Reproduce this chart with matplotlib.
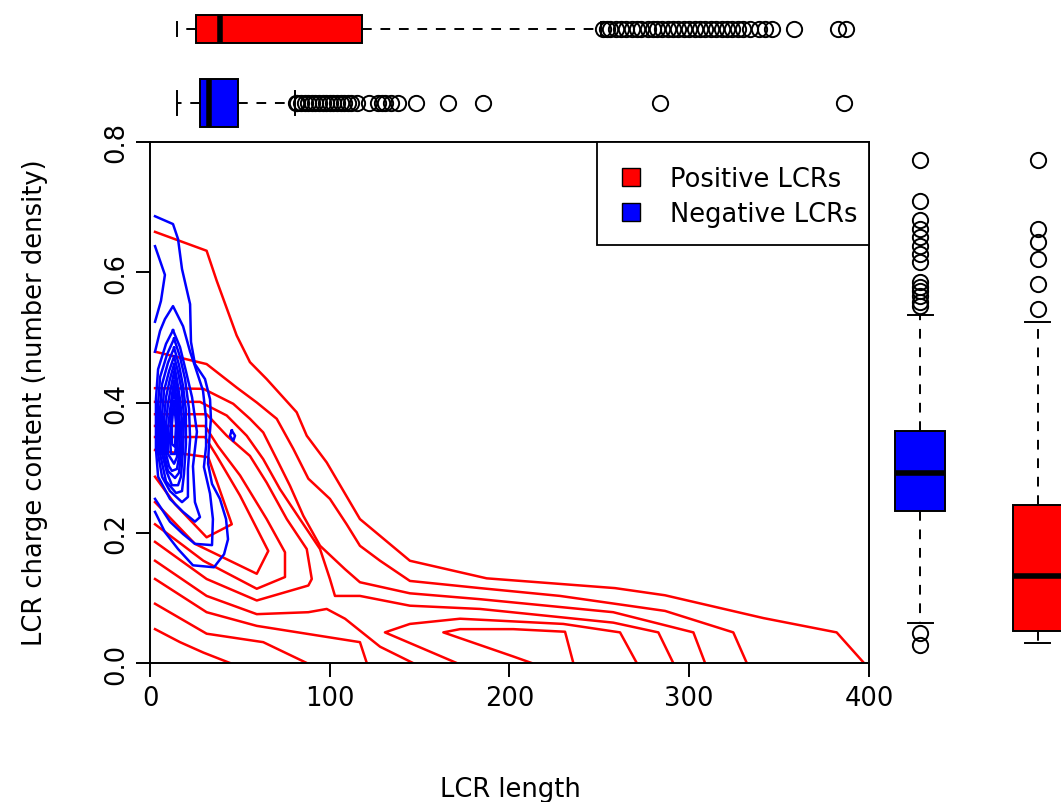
import matplotlib
matplotlib.use("Agg")
import matplotlib.pyplot as plt
from matplotlib.patches import Patch, Rectangle

# ---------------- data ----------------
# box plot statistics of LCR length (top panel)
pos_len = dict(whislo=15.0, q1=25.8, med=39.0, q3=118.0, whishi=251.0)
pos_len_out = [252, 254, 256, 259, 262, 265, 268, 271, 273, 277, 280, 282, 285,
               288, 291, 294, 297, 300, 303, 306, 309, 312, 315, 318, 321, 324,
               327, 330, 334, 339, 342, 346, 358, 383, 387]
neg_len = dict(whislo=15.0, q1=27.8, med=32.8, q3=49.0, whishi=80.5)
neg_len_out = [81, 82, 84, 86, 88, 90, 92, 94, 96, 98, 100, 102, 104, 106, 108,
               110, 112, 115, 122, 127, 129, 131, 134, 138, 148, 166, 185, 284, 386]

# box plot statistics of LCR charge content (right panel)
neg_chg = dict(whislo=0.061, q1=0.234, med=0.292, q3=0.357, whishi=0.535)
neg_chg_out = [0.773, 0.709, 0.680, 0.666, 0.654, 0.640, 0.628, 0.616, 0.585,
               0.578, 0.571, 0.563, 0.555, 0.548, 0.046, 0.028]
pos_chg = dict(whislo=0.030, q1=0.049, med=0.133, q3=0.242, whishi=0.523)
pos_chg_out = [0.773, 0.667, 0.646, 0.620, 0.582, 0.543]

# 2D density contour lines, (length, charge content)
red_lines = [
    [(2.8, 0.662), (31.5, 0.633), (37.1, 0.587), (48.2, 0.503), (55.6, 0.462), (64.9, 0.436),
     (81.6, 0.385), (87.2, 0.349), (98.3, 0.308), (116.8, 0.221), (144.6, 0.157), (187.3, 0.130),
     (258.7, 0.115), (286.5, 0.104), (341.2, 0.069), (382.0, 0.047), (397.2, 0.0)],
    [(2.8, 0.052), (16.7, 0.032), (29.7, 0.016), (44.5, 0.0)],
    [(2.8, 0.478), (31.5, 0.459), (48.2, 0.423), (59.4, 0.400), (70.5, 0.375), (79.7, 0.329),
     (88.1, 0.283), (100.1, 0.252), (109.4, 0.213), (116.8, 0.180), (128.0, 0.157), (144.6, 0.126),
     (183.6, 0.115), (228.1, 0.103), (286.5, 0.080), (324.5, 0.047), (332.0, 0.0)],
    [(2.8, 0.091), (31.5, 0.045), (63.0, 0.032), (87.2, 0.0)],
    [(2.8, 0.422), (29.7, 0.421), (46.3, 0.398), (55.6, 0.375), (63.0, 0.354), (70.5, 0.313),
     (77.9, 0.272), (85.3, 0.226), (94.6, 0.180), (108.5, 0.144), (116.8, 0.124), (144.6, 0.107),
     (183.6, 0.098), (257.7, 0.078), (302.3, 0.047), (308.8, 0.0)],
    [(2.8, 0.129), (31.5, 0.078), (59.4, 0.057), (116.8, 0.032), (120.6, 0.0)],
    [(2.8, 0.401), (27.8, 0.401), (42.7, 0.380), (53.8, 0.349), (63.0, 0.313), (72.3, 0.267),
     (83.4, 0.221), (94.6, 0.175), (100.1, 0.129), (102.9, 0.103), (116.8, 0.103), (144.6, 0.088),
     (183.6, 0.083), (257.7, 0.062), (282.8, 0.047), (291.1, 0.0)],
    [(2.8, 0.157), (31.5, 0.103), (59.4, 0.075), (88.1, 0.078), (98.3, 0.083), (108.5, 0.068),
     (128.0, 0.025), (146.3, 0.0)],
    [(2.8, 0.382), (31.5, 0.382), (42.7, 0.349), (55.6, 0.318), (64.9, 0.277), (76.1, 0.221),
     (87.2, 0.175), (90.0, 0.129), (88.1, 0.119), (59.4, 0.096), (31.5, 0.129), (2.8, 0.186)],
    [(2.8, 0.364), (30.6, 0.364), (37.8, 0.333), (50.1, 0.288), (64.9, 0.221), (75.1, 0.170),
     (75.1, 0.132), (59.4, 0.114), (29.7, 0.157), (2.8, 0.213)],
    [(2.8, 0.347), (30.6, 0.347), (37.1, 0.318), (50.1, 0.257), (65.8, 0.172), (59.4, 0.137),
     (25.0, 0.183), (2.8, 0.247)],
    [(2.8, 0.327), (32.4, 0.316), (45.5, 0.213), (31.5, 0.193), (13.9, 0.244), (2.8, 0.286)],
    [(270.8, 0.0), (261.5, 0.047), (229.9, 0.060), (172.5, 0.068), (144.6, 0.060), (130.7, 0.047),
     (170.6, 0.0)],
    [(235.5, 0.0), (230.9, 0.048), (202.1, 0.052), (172.5, 0.052), (163.2, 0.047), (202.1, 0.010),
     (212.3, 0.0)],
]

blue_lines = [
    [(2.8, 0.686), (12.8, 0.674), (15.6, 0.651), (17.8, 0.605), (22.3, 0.551), (22.8, 0.493),
     (25.0, 0.459), (30.6, 0.436), (33.4, 0.405), (33.9, 0.375), (32.8, 0.336), (32.3, 0.306),
     (34.5, 0.275), (38.9, 0.252), (42.3, 0.221), (43.4, 0.190), (41.2, 0.167), (35.6, 0.147),
     (23.9, 0.150), (15.6, 0.175), (8.3, 0.201), (2.8, 0.232)],
    [(2.8, 0.640), (8.3, 0.596), (6.1, 0.556), (2.8, 0.524)],
    [(2.8, 0.478), (5.6, 0.510), (8.3, 0.528), (12.8, 0.548), (18.4, 0.517), (22.3, 0.478),
     (25.0, 0.456), (29.5, 0.418), (31.2, 0.375), (31.2, 0.333), (30.0, 0.301), (33.4, 0.260),
     (35.0, 0.221), (34.5, 0.181), (25.0, 0.183), (18.4, 0.198), (11.1, 0.217), (2.8, 0.252)],
    [(12.8, 0.511), (8.9, 0.490), (4.5, 0.451), (3.3, 0.405), (3.3, 0.329), (4.5, 0.286),
     (11.1, 0.252), (18.4, 0.232), (25.0, 0.217), (27.8, 0.224), (25.0, 0.247), (23.9, 0.302),
     (26.1, 0.355), (23.4, 0.408), (20.0, 0.448), (16.7, 0.485), (12.8, 0.511)],
    [(13.4, 0.498), (9.5, 0.474), (5.6, 0.439), (4.5, 0.398), (4.5, 0.321), (6.7, 0.286),
     (11.1, 0.264), (17.8, 0.247), (21.1, 0.255), (21.1, 0.298), (22.3, 0.344), (21.7, 0.390),
     (19.5, 0.436), (16.7, 0.470), (13.4, 0.498)],
    [(13.4, 0.484), (10.0, 0.461), (6.7, 0.428), (5.6, 0.390), (5.6, 0.321), (8.9, 0.279),
     (14.5, 0.261), (17.8, 0.264), (18.9, 0.290), (20.0, 0.336), (20.0, 0.387), (18.4, 0.425),
     (16.1, 0.458), (13.4, 0.484)],
    [(13.4, 0.471), (10.6, 0.448), (7.8, 0.418), (6.7, 0.382), (6.7, 0.321), (9.5, 0.292),
     (12.2, 0.273), (15.6, 0.273), (17.2, 0.286), (18.4, 0.329), (18.9, 0.378), (17.8, 0.416),
     (15.6, 0.447), (13.4, 0.471)],
    [(13.4, 0.459), (11.1, 0.436), (8.9, 0.408), (7.8, 0.375), (7.8, 0.321), (10.0, 0.295),
     (13.9, 0.284), (16.1, 0.292), (17.2, 0.321), (17.8, 0.372), (16.7, 0.405), (15.0, 0.435),
     (13.4, 0.459)],
    [(13.4, 0.447), (11.7, 0.424), (10.0, 0.398), (8.9, 0.367), (8.9, 0.321), (10.6, 0.302),
     (12.2, 0.295), (15.0, 0.298), (16.1, 0.316), (16.7, 0.362), (16.1, 0.395), (15.0, 0.422),
     (13.4, 0.447)],
    [(13.4, 0.433), (12.2, 0.412), (11.1, 0.387), (10.0, 0.359), (10.0, 0.321), (13.4, 0.306),
     (15.0, 0.316), (15.6, 0.355), (15.6, 0.385), (14.5, 0.410), (13.4, 0.433)],
    [(13.4, 0.418), (12.2, 0.399), (11.7, 0.375), (11.1, 0.344), (11.7, 0.321), (13.9, 0.321),
     (15.0, 0.344), (15.0, 0.375), (14.5, 0.398), (13.4, 0.418)],
    [(13.4, 0.402), (12.8, 0.387), (12.2, 0.367), (12.2, 0.336), (13.9, 0.332), (14.5, 0.367),
     (13.9, 0.385), (13.4, 0.402)],
    [(45.5, 0.357), (47.3, 0.349), (46.3, 0.341), (44.5, 0.349), (45.5, 0.357)],
]

x_ticks = [0, 100, 200, 300, 400]
y_ticks = [0.0, 0.2, 0.4, 0.6, 0.8]
y_ticklabels = ["0.0", "0.2", "0.4", "0.6", "0.8"]

# ---------------- figure ----------------
W, H = 1061, 803
fig = plt.figure(figsize=(W / 100, H / 100), dpi=100)
FS = 18.5

AX_L, AX_T, AX_R, AX_B = 150, 143, 869, 664


def px_axes(left, top, right, bottom):
    return fig.add_axes([left / W, 1 - bottom / H, (right - left) / W, (bottom - top) / H])


def box(ax, stats, fliers, pos, width, color, horizontal):
    st = dict(stats)
    st["fliers"] = fliers
    kw = dict(positions=[pos], widths=[width], patch_artist=True,
              boxprops=dict(facecolor=color, edgecolor="black", linewidth=1.4),
              medianprops=dict(color="black", linewidth=4, solid_capstyle="butt"),
              whiskerprops=dict(color="black", linewidth=1.4, linestyle=(0, (5, 4.5))),
              capprops=dict(color="black", linewidth=1.4),
              flierprops=dict(marker="o", markersize=11, markerfacecolor="none",
                              markeredgecolor="black", markeredgewidth=1.4, linestyle="none"))
    try:
        ax.bxp([st], orientation="horizontal" if horizontal else "vertical", **kw)
    except TypeError:
        ax.bxp([st], vert=not horizontal, **kw)


# main contour panel
ax = px_axes(AX_L, AX_T, AX_R, AX_B)
for line in red_lines:
    xs, ys = zip(*line)
    ax.plot(xs, ys, color="#ff0000", lw=1.8, zorder=2)
for line in blue_lines:
    xs, ys = zip(*line)
    ax.plot(xs, ys, color="#0000ff", lw=1.8, zorder=3)

ax.set_xlim(0, 400)
ax.set_ylim(0, 0.8)
ax.set_xticks(x_ticks)
ax.set_yticks(y_ticks)
ax.set_yticklabels(y_ticklabels, rotation=90, va="center")
ax.tick_params(direction="out", length=10, width=1.4, labelsize=FS)
ax.tick_params(axis="x", pad=6)
ax.tick_params(axis="y", pad=5)
for s in ax.spines.values():
    s.set_linewidth(1.4)


def ax_frac(px, py):
    return (px - AX_L) / (AX_R - AX_L), (AX_B - py) / (AX_B - AX_T)


# legend: R-style box in the top right corner
lx0, ly0 = ax_frac(597, 246)
ax.add_patch(Rectangle((lx0, ly0), 1 - lx0, 1 - ly0, transform=ax.transAxes,
                       facecolor="white", edgecolor="black", lw=1.3, zorder=4,
                       clip_on=False))
handles = [Patch(facecolor="#ff0000", edgecolor="black", label="Positive LCRs"),
           Patch(facecolor="#0000ff", edgecolor="black", label="Negative LCRs")]
hx, hy = ax_frac(622, 167)
leg = ax.legend(handles=handles, loc="upper left", bbox_to_anchor=(hx, hy), borderaxespad=0,
                frameon=False, fontsize=FS, borderpad=0,
                handlelength=0.7, handleheight=0.7, handletextpad=1.15,
                labelspacing=0.35)
leg.set_zorder(5)

fig.text(35 / W, 1 - 403 / H, "LCR charge content (number density)", rotation=90,
         ha="center", va="center", fontsize=FS)
fig.text(510 / W, 1 - 790 / H, "LCR length", ha="center", va="center", fontsize=FS)

# top panel: length box plots
axt = px_axes(AX_L, 0, AX_R, 140)
box(axt, pos_len, pos_len_out, 30, 28, "#ff0000", True)
box(axt, neg_len, neg_len_out, 104, 48, "#0000ff", True)
axt.set_xlim(0, 400)
axt.set_ylim(140, 0)
axt.axis("off")

# right panel: charge content box plots
axr = px_axes(875, AX_T, 1100, AX_B)
box(axr, neg_chg, neg_chg_out, 920, 50, "#0000ff", False)
box(axr, pos_chg, pos_chg_out, 1038, 50, "#ff0000", False)
axr.set_xlim(875, 1100)
axr.set_ylim(0, 0.8)
axr.axis("off")

fig.savefig("out.png", dpi=100)
